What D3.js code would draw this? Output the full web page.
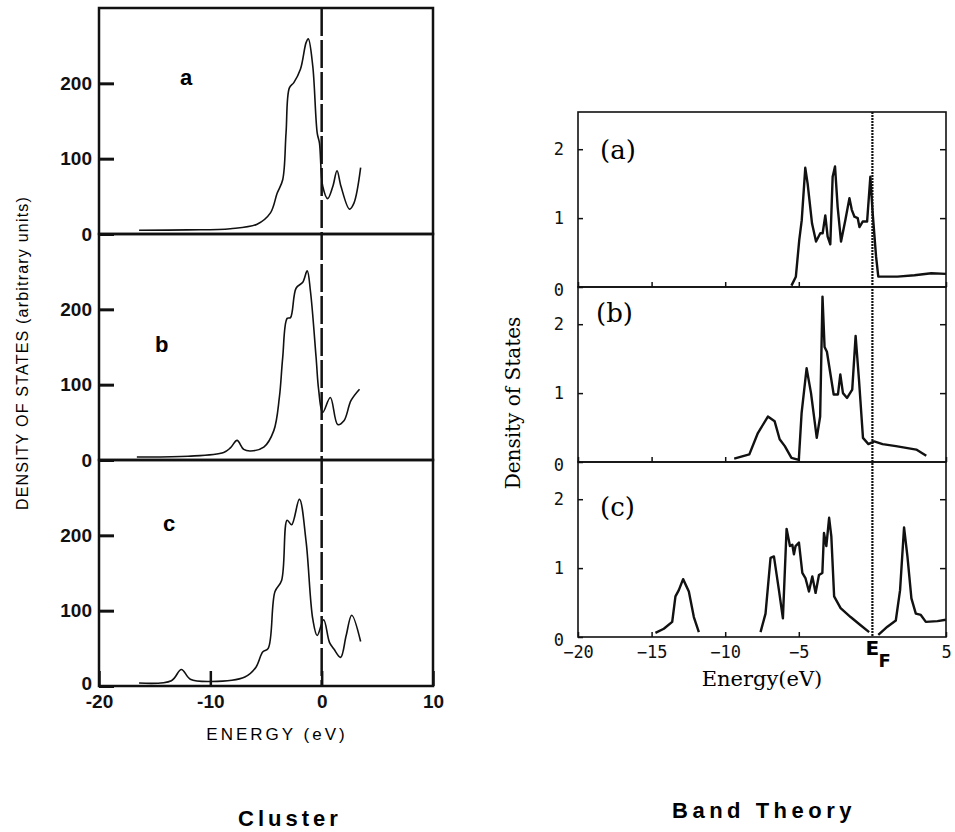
<!DOCTYPE html>
<html>
<head>
<meta charset="utf-8">
<script src="https://cdn.jsdelivr.net/npm/d3@7"></script>
<style>
body { margin: 0; background: #fff; }
</style>
</head>
<body>
<script>
// cluster DOS, arbitrary units, [energy eV, value]
var clusterA = [[-16.4,5],[-12,5.5],[-8.2,7],[-5.8,13],[-4.6,28],[-4.0,54],[-3.5,72],[-3.2,134],[-2.9,194],[-2.5,201],[-1.9,219],[-1.4,254],[-1.2,259],[-0.8,223],[-0.4,134],[-0.2,121],[0.1,63],[0.54,47],[1.0,63],[1.38,84],[1.74,63],[2.5,33],[2.9,41],[3.5,88]];
var clusterB = [[-16.6,4],[-12,5],[-8.8,10],[-8.2,16],[-7.6,26],[-7.0,14],[-6.4,12],[-5.2,17],[-4.3,39],[-3.8,83],[-3.5,136],[-3.1,188],[-2.8,189],[-2.3,228],[-1.7,236],[-1.3,251],[-1.0,223],[-0.5,136],[-0.27,93],[0.09,63],[0.78,83],[1.44,47],[2.0,52],[2.64,79],[3.4,94]];
var clusterC = [[-16.4,4],[-13.5,7],[-12.6,22],[-11.8,9],[-9.9,6],[-6.9,12],[-5.9,25],[-5.3,45],[-4.8,50],[-4.2,125],[-3.6,140],[-3.1,220],[-2.7,214],[-2.0,248],[-1.4,192],[-0.8,89],[-0.4,67],[0.18,88],[0.7,58],[1.1,49],[1.7,38],[2.2,67],[2.7,94],[3.5,59]];

// band theory DOS
var bandA = [[-5.5,0.02],[-5.2,0.15],[-4.97,0.68],[-4.8,0.97],[-4.56,1.73],[-4.4,1.5],[-4.1,0.92],[-3.83,0.66],[-3.54,0.78],[-3.38,0.78],[-3.2,1.04],[-3.04,0.73],[-2.86,0.62],[-2.7,1.6],[-2.54,1.75],[-2.36,1.16],[-2.13,0.66],[-1.84,0.97],[-1.56,1.29],[-1.4,1.12],[-1.22,1.02],[-1.0,1.0],[-0.88,0.87],[-0.66,0.95],[-0.36,0.95],[-0.14,1.6],[0.02,1.07],[0.25,0.44],[0.4,0.15],[1.7,0.15],[2.86,0.17],[4.0,0.2],[5.0,0.19]];
var bandB = [[-9.39,0.05],[-8.36,0.11],[-7.78,0.42],[-7.1,0.66],[-6.64,0.59],[-6.3,0.33],[-5.95,0.23],[-5.5,0.06],[-5.0,0.03],[-4.81,0.71],[-4.47,1.36],[-4.17,1.0],[-3.78,0.35],[-3.55,0.66],[-3.39,2.4],[-3.25,1.67],[-3.09,1.6],[-2.63,0.98],[-2.34,0.98],[-2.18,1.27],[-2.0,1.0],[-1.72,0.93],[-1.37,1.05],[-1.14,1.83],[-0.91,1.19],[-0.64,0.35],[-0.27,0.26],[0.12,0.3],[0.69,0.26],[1.6,0.23],[2.98,0.18],[3.66,0.09]];
var bandCcore = [[-14.74,0.06],[-14.17,0.12],[-13.6,0.22],[-13.38,0.59],[-13.15,0.68],[-12.86,0.84],[-12.47,0.66],[-12.13,0.29],[-11.79,0.07]];
var bandCval = [[-7.6,0.07],[-7.26,0.34],[-6.92,1.15],[-6.69,1.17],[-6.35,0.68],[-6.08,0.27],[-5.83,1.57],[-5.6,1.32],[-5.44,1.34],[-5.33,1.2],[-5.22,1.32],[-4.99,1.37],[-4.76,0.93],[-4.54,0.85],[-4.31,0.66],[-4.08,0.88],[-3.86,0.64],[-3.63,0.9],[-3.4,0.93],[-3.29,1.51],[-3.13,1.32],[-2.94,1.73],[-2.79,1.46],[-2.6,0.59],[-2.16,0.42],[-1.48,0.29],[-0.8,0.17],[-0.22,0.07]];
var bandCcond = [[0.4,0.03],[1.02,0.15],[1.59,0.24],[1.88,0.68],[2.15,1.59],[2.38,1.17],[2.65,0.56],[2.95,0.34],[3.29,0.32],[3.63,0.22],[4.42,0.23],[4.99,0.25]];

var clusterYTicks = [0, 100, 200];
var clusterXTicks = [-20, -10, 0, 10];
var bandYTicks = [0, 1, 2];
var bandXTicks = [-20, -15, -10, -5, 5];

var svg = d3.select('body').append('svg')
  .attr('width', 955)
  .attr('height', 832);

// ---------- left: cluster ----------
var lx = d3.scaleLinear().domain([-20, 10]).range([99, 433]);
var lTop = 8, lH = 226;

var clusterLine = d3.line().curve(d3.curveCatmullRom.alpha(0.5));

function drawCluster(data, i, label, labX, labY) {
  var top = lTop + i * lH;
  var y = d3.scaleLinear().domain([0, 300]).range([top + lH, top]);
  var g = svg.append('g');

  g.append('rect')
    .attr('x', lx(-20)).attr('y', top)
    .attr('width', lx(10) - lx(-20)).attr('height', lH)
    .attr('fill', 'none').attr('stroke', '#111').attr('stroke-width', 2.5);

  var ax = g.append('g')
    .attr('transform', 'translate(' + lx(-20) + ',0)')
    .call(d3.axisLeft(y).tickValues(clusterYTicks).tickSize(-15).tickPadding(7));
  ax.select('.domain').remove();
  ax.selectAll('line').attr('stroke', '#111').attr('stroke-width', 3);
  ax.selectAll('text')
    .attr('font-family', 'Liberation Sans, Arial, sans-serif')
    .attr('font-size', 19).attr('font-weight', 'bold').attr('fill', '#111')
    .attr('dy', function(d){ return (i == 2 && d == 0) ? '0.2em' : '0.32em'; });

  if (i == 2) {
    var bx = g.append('g')
      .attr('transform', 'translate(0,' + (top + lH) + ')')
      .call(d3.axisBottom(lx).tickValues(clusterXTicks).tickSize(-15).tickPadding(9)
        .tickFormat(function(d){ return String(d); }));
    bx.select('.domain').remove();
    bx.selectAll('line').attr('stroke', '#111').attr('stroke-width', 2.5);
    bx.selectAll('text')
      .attr('font-family', 'Liberation Sans, Arial, sans-serif')
      .attr('font-size', 19).attr('font-weight', 'bold').attr('fill', '#111');
  }

  g.append('path')
    .attr('d', clusterLine(data.map(function(d){ return [lx(d[0]), y(d[1])]; })))
    .attr('fill', 'none').attr('stroke', '#111').attr('stroke-width', 1.6);

  g.append('text')
    .attr('x', labX).attr('y', labY)
    .attr('font-family', 'Liberation Sans, Arial, sans-serif')
    .attr('font-size', 22).attr('font-weight', 'bold')
    .text(label);
}

drawCluster(clusterA, 0, 'a', 180, 85);
drawCluster(clusterB, 1, 'b', 155, 352);
drawCluster(clusterC, 2, 'c', 163, 531);

// Fermi level dashed line
svg.append('line')
  .attr('x1', lx(0)).attr('x2', lx(0))
  .attr('y1', lTop).attr('y2', lTop + 3 * lH)
  .attr('stroke', '#111').attr('stroke-width', 2.5)
  .attr('stroke-dasharray', '28,4');

svg.append('text')
  .attr('x', 277).attr('y', 740)
  .attr('text-anchor', 'middle')
  .attr('font-family', 'Liberation Sans, Arial, sans-serif')
  .attr('font-size', 17).attr('letter-spacing', 3)
  .text('ENERGY (eV)');

svg.append('text')
  .attr('transform', 'translate(28,353) rotate(-90)')
  .attr('text-anchor', 'middle')
  .attr('font-family', 'Liberation Sans, Arial, sans-serif')
  .attr('font-size', 16).attr('letter-spacing', 1.2)
  .text('DENSITY OF STATES (arbitrary units)');

svg.append('text')
  .attr('x', 290).attr('y', 826)
  .attr('text-anchor', 'middle')
  .attr('font-family', 'Liberation Sans, Arial, sans-serif')
  .attr('font-size', 22).attr('font-weight', 'bold').attr('letter-spacing', 4)
  .text('Cluster');

// ---------- right: band theory ----------
var rx = d3.scaleLinear().domain([-20, 5]).range([578, 946]);
var rTop = 112, rH = 175;
var bandLine = d3.line();

function drawBand(series, i, label, labX, labY) {
  var top = rTop + i * rH;
  var y = d3.scaleLinear().domain([0, 2.54]).range([top + rH, top]);
  var g = svg.append('g');

  g.append('rect')
    .attr('x', rx(-20)).attr('y', top)
    .attr('width', rx(5) - rx(-20)).attr('height', rH)
    .attr('fill', 'none').attr('stroke', '#111').attr('stroke-width', 1.6);

  var ax = g.append('g')
    .attr('transform', 'translate(' + rx(-20) + ',0)')
    .call(d3.axisLeft(y).tickValues(bandYTicks).tickSize(-5).tickPadding(14)
      .tickFormat(d3.format('d')));
  ax.select('.domain').remove();
  ax.selectAll('line').attr('stroke', '#111').attr('stroke-width', 1.5);
  ax.selectAll('text')
    .attr('font-family', 'DejaVu Sans Mono, monospace')
    .attr('font-size', 17).attr('fill', '#111')
    .attr('dy', function(d){ return d == 0 ? '0.5em' : '0.32em'; });

  var ar = g.append('g')
    .attr('transform', 'translate(' + rx(5) + ',0)')
    .call(d3.axisRight(y).tickValues([1, 2]).tickSize(-6).tickFormat(''));
  ar.select('.domain').remove();
  ar.selectAll('line').attr('stroke', '#111').attr('stroke-width', 1.5);

  var bx = g.append('g')
    .attr('transform', 'translate(0,' + (top + rH) + ')')
    .call(d3.axisBottom(rx).tickValues(bandXTicks).tickSize(-5).tickPadding(9)
      .tickFormat(function(d){ return i == 2 ? (d < 0 ? '\u2212' + (-d) : String(d)) : ''; }));
  bx.select('.domain').remove();
  bx.selectAll('line').attr('stroke', '#111').attr('stroke-width', 1.5);
  bx.selectAll('text')
    .attr('font-family', 'DejaVu Sans Mono, monospace')
    .attr('font-size', 17).attr('fill', '#111');

  series.forEach(function(s){
    g.append('path')
      .attr('d', bandLine(s.map(function(d){ return [rx(d[0]), y(d[1])]; })))
      .attr('fill', 'none').attr('stroke', '#111')
      .attr('stroke-width', 2.4).attr('stroke-linejoin', 'round');
  });

  g.append('text')
    .attr('x', labX).attr('y', labY)
    .attr('font-family', 'DejaVu Serif, serif')
    .attr('font-size', 26)
    .text(label);
}

drawBand([bandA], 0, '(a)', 600, 159);
drawBand([bandB], 1, '(b)', 596, 322);
drawBand([bandCcore, bandCval, bandCcond], 2, '(c)', 600, 516);

// E_F dotted line
svg.append('line')
  .attr('x1', rx(0)).attr('x2', rx(0))
  .attr('y1', rTop).attr('y2', rTop + 3 * rH)
  .attr('stroke', '#111').attr('stroke-width', 2.2)
  .attr('stroke-dasharray', '2,1');

svg.append('text')
  .attr('x', rx(0) - 7).attr('y', 655)
  .attr('font-family', 'DejaVu Sans, sans-serif')
  .attr('font-size', 20).attr('font-weight', 'bold')
  .text('E');
svg.append('text')
  .attr('x', rx(0) + 6).attr('y', 667)
  .attr('font-family', 'DejaVu Sans, sans-serif')
  .attr('font-size', 18).attr('font-weight', 'bold')
  .text('F');

svg.append('text')
  .attr('x', 762).attr('y', 686)
  .attr('text-anchor', 'middle')
  .attr('font-family', 'DejaVu Serif, serif')
  .attr('font-size', 21)
  .text('Energy(eV)');

svg.append('text')
  .attr('transform', 'translate(520,403) rotate(-90)')
  .attr('text-anchor', 'middle')
  .attr('font-family', 'DejaVu Serif, serif')
  .attr('font-size', 20)
  .text('Density of States');

svg.append('text')
  .attr('x', 764).attr('y', 818)
  .attr('text-anchor', 'middle')
  .attr('font-family', 'Liberation Sans, Arial, sans-serif')
  .attr('font-size', 22).attr('font-weight', 'bold').attr('letter-spacing', 4.5)
  .text('Band Theory');
</script>
</body>
</html>
